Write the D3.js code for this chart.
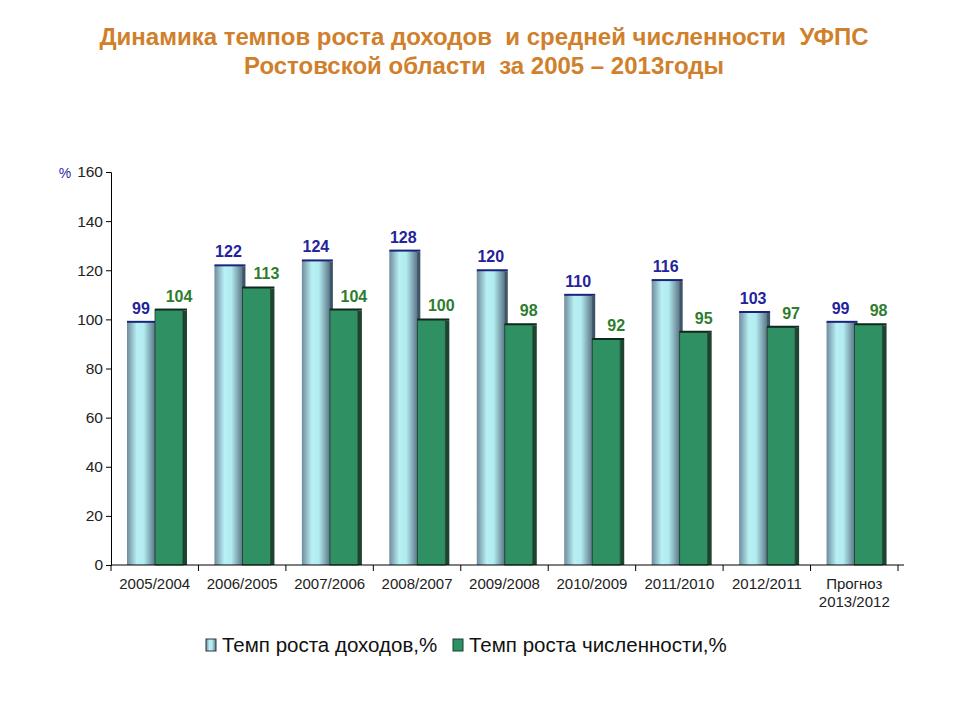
<!DOCTYPE html>
<meta charset="utf-8">
<style>
    body{ margin:0; background:#fff; }
    text{ font-family:"Liberation Sans", Arial, sans-serif; white-space:pre; }
</style>
<div class="chart"></div>
<script src="https://d3js.org/d3.v7.min.js"></script>
<script>

var periods = ['2005/2004','2006/2005','2007/2006','2008/2007','2009/2008','2010/2009','2011/2010','2012/2011','Прогноз|2013/2012'];
var incomeRate = [99,122,124,128,120,110,116,103,99];
var staffRate = [104,113,104,100,98,92,95,97,98];
var yTicks = [0,20,40,60,80,100,120,140,160];
var seriesNames = ['Темп роста доходов,%','Темп роста численности,%'];

var svg = d3.select('.chart').append('svg').attr('width', 960).attr('height', 720),
    margin = {top: 172, left: 111, right: 62, bottom: 155},
    width = 960 - margin.left - margin.right,
    height = 720 - margin.top - margin.bottom,
    g = svg.append('g').attr('transform', 'translate(' + margin.left + ',' + margin.top + ')');

var defs = svg.append('defs');
var grad = defs.append('linearGradient').attr('id', 'cyl')
    .attr('x1', 0).attr('x2', 1).attr('y1', 0).attr('y2', 0);
grad.append('stop').attr('offset', '0%').attr('stop-color', '#6f8a9c');
grad.append('stop').attr('offset', '35%').attr('stop-color', '#b8f0f4');
grad.append('stop').attr('offset', '60%').attr('stop-color', '#b2ecf0');
grad.append('stop').attr('offset', '100%').attr('stop-color', '#5d7688');

// title
var title = svg.append('text').attr('x', 484).attr('text-anchor', 'middle')
    .attr('fill', '#d0802a').style('font-size', '24px').attr('font-weight', 'bold');
title.append('tspan').attr('x', 484).attr('y', 45).text('Динамика темпов роста доходов  и средней численности  УФПС');
title.append('tspan').attr('x', 484).attr('y', 74).text('Ростовской области  за 2005 – 2013годы');

var x = d3.scaleBand().domain(periods).range([0, width]);
var y = d3.scaleLinear().domain([0, 160]).range([height, 0]);

var barW = 28, depth = 4, offset = 16;

// y axis
var yAxis = g.append('g')
    .call(d3.axisLeft(y).tickValues(yTicks).tickSize(5).tickPadding(3));
yAxis.selectAll('text').style('font-size', '15.5px').attr('fill', '#222').style('font-family', '"Liberation Sans", Arial, sans-serif');
yAxis.selectAll('line,path').attr('stroke', '#000');
svg.append('text').attr('x', 65).attr('y', margin.top + 6).attr('text-anchor', 'middle')
    .style('font-size', '14px').attr('fill', '#2a2aa0').text('%');

// bars
var groups = g.selectAll('.grp').data(periods).enter().append('g')
    .attr('transform', function(d){ return 'translate(' + (x(d) + offset) + ',0)'; });

// income (cylinder-like)
groups.append('rect')
    .attr('x', barW - 1).attr('width', depth)
    .attr('y', function(d,i){ return y(incomeRate[i]) + 1; })
    .attr('height', function(d,i){ return height - y(incomeRate[i]) - 1; })
    .attr('fill', '#3e5566');
groups.append('rect')
    .attr('x', 0).attr('width', barW)
    .attr('y', function(d,i){ return y(incomeRate[i]); })
    .attr('height', function(d,i){ return height - y(incomeRate[i]); })
    .attr('fill', 'url(#cyl)');
groups.append('line')
    .attr('x1', 0).attr('x2', barW + depth - 1)
    .attr('y1', function(d,i){ return y(incomeRate[i]); })
    .attr('y2', function(d,i){ return y(incomeRate[i]); })
    .attr('stroke', '#1a237e').attr('stroke-width', 2);

// staff
groups.append('rect')
    .attr('x', 2 * barW).attr('width', depth)
    .attr('y', function(d,i){ return y(staffRate[i]) + 1; })
    .attr('height', function(d,i){ return height - y(staffRate[i]) - 1; })
    .attr('fill', '#1d4430');
groups.append('rect')
    .attr('x', barW).attr('width', barW)
    .attr('y', function(d,i){ return y(staffRate[i]); })
    .attr('height', function(d,i){ return height - y(staffRate[i]); })
    .attr('fill', '#2f9063')
    .attr('stroke', '#1b3d2a').attr('stroke-width', 0.8);
groups.append('line')
    .attr('x1', barW).attr('x2', 2 * barW + depth)
    .attr('y1', function(d,i){ return y(staffRate[i]); })
    .attr('y2', function(d,i){ return y(staffRate[i]); })
    .attr('stroke', '#0f2a1c').attr('stroke-width', 2);

// value labels
groups.append('text')
    .attr('x', barW / 2)
    .attr('y', function(d,i){ return y(incomeRate[i]) - 8; })
    .attr('text-anchor', 'middle').style('font-size', '16px').attr('font-weight', 'bold')
    .attr('fill', '#23239b')
    .text(function(d,i){ return incomeRate[i]; });
groups.append('text')
    .attr('x', barW * 1.5 + 10)
    .attr('y', function(d,i){ return y(staffRate[i]) - 8; })
    .attr('text-anchor', 'middle').style('font-size', '16px').attr('font-weight', 'bold')
    .attr('fill', '#2e7d2e')
    .text(function(d,i){ return staffRate[i]; });

// x axis
g.append('line').attr('x1', 0).attr('x2', width + 6).attr('y1', height).attr('y2', height)
    .attr('stroke', '#000');
var ticks = periods.map(function(d){ return x(d); }).concat([width]);
g.selectAll('.xt').data(ticks).enter().append('line')
    .attr('x1', function(d){ return d; }).attr('x2', function(d){ return d; })
    .attr('y1', height).attr('y2', height + 6).attr('stroke', '#000');
var xl = g.selectAll('.xl').data(periods).enter().append('text')
    .attr('text-anchor', 'middle').style('font-size', '15px').attr('fill', '#222')
    .attr('transform', function(d){ return 'translate(' + (x(d) + x.bandwidth() / 2) + ',' + (height + 24) + ')'; });
xl.each(function(d){
    var parts = d.split('|');
    var t = d3.select(this);
    parts.forEach(function(p, k){
        t.append('tspan').attr('x', 0).attr('dy', k === 0 ? 0 : 18).text(p);
    });
});

// legend
var legend = svg.append('g').attr('transform', 'translate(206,645)');
legend.append('rect').attr('x', 0).attr('y', -6).attr('width', 10).attr('height', 12)
    .attr('fill', 'url(#cyl)').attr('stroke', '#334').attr('stroke-width', 1);
legend.append('text').attr('x', 16).attr('y', 7).style('font-size', '20.5px').attr('fill', '#111').text(seriesNames[0]);
legend.append('rect').attr('x', 247).attr('y', -6).attr('width', 10).attr('height', 12)
    .attr('fill', '#2f9063').attr('stroke', '#1b3d2a').attr('stroke-width', 1);
legend.append('text').attr('x', 263).attr('y', 7).style('font-size', '20.5px').attr('fill', '#111').text(seriesNames[1]);

</script>
